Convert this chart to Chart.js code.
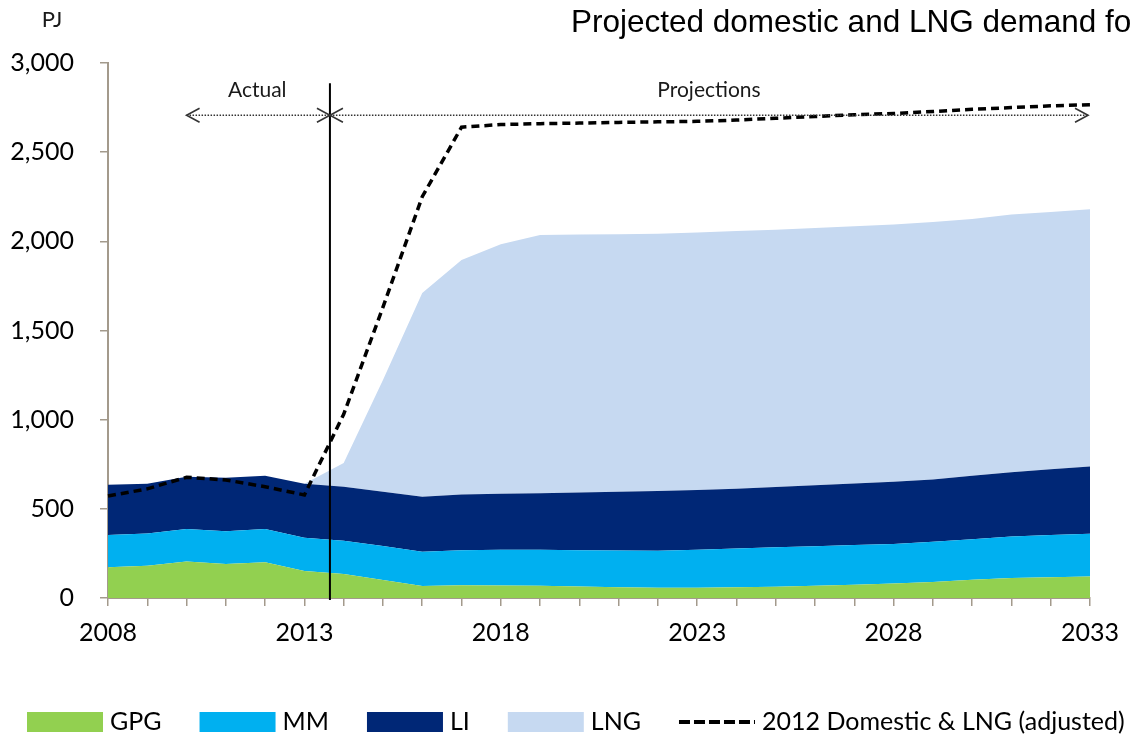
<!DOCTYPE html>
<html>
<head>
<meta charset="utf-8">
<script src="https://cdn.jsdelivr.net/npm/chart.js@4.4.1/dist/chart.umd.min.js"></script>
<style>
  html, body { margin: 0; padding: 0; background: #ffffff; }
  #wrap { width: 1132px; height: 737px; position: relative; overflow: hidden; }
</style>
</head>
<body>
<div id="wrap"><canvas id="chart"></canvas></div>
<script>
// Years on the horizontal axis (one point per year)
const years = ['2008','2009','2010','2011','2012','2013','2014','2015','2016','2017','2018','2019','2020',
               '2021','2022','2023','2024','2025','2026','2027','2028','2029','2030','2031','2032','2033'];
// Years that carry a printed label
const xTickLabels = ['2008','2013','2018','2023','2028','2033'];

// Gas demand by sector, PJ (stacked areas)
const gpg = [172,181,204,191,200,151,134,101, 67, 72, 70, 68, 65, 60, 58, 58, 60, 63, 68, 74, 82, 90,102,112,116,120];
const mm  = [181,181,183,183,187,187,187,190,193,196,200,202,203,206,207,212,217,221,222,223,221,225,228,233,237,240];
const li  = [282,278,293,301,298,302,303,305,308,312,315,318,324,330,335,335,335,338,342,345,349,350,355,360,369,378];
const lng = [  0,  0,  0,  0,  0,  0,133,626,1142,1315,1398,1447,1446,1444,1443,1445,1446,1443,1443,1443,1443,1443,1440,1445,1443,1442];

// Earlier (2012) outlook of total domestic and LNG demand, PJ
const demand2012 = [572,612,677,662,624,578,1030,1631,2250,2640,2655,2660,2663,2667,2670,2673,2680,2690,2700,2710,2717,2728,2740,2750,2760,2766];

const seriesNames  = ['GPG', 'MM', 'LI', 'LNG', '2012 Domestic & LNG (adjusted)'];
const seriesColors = ['#92d050', '#00b0f0', '#002776', '#c6d9f1', '#000000'];

const FONT = 'Lato, "Noto Sans", sans-serif';
const AXIS_COLOR = '#a39a8c';

// Actual / projections divider and the arrows above the plot
const divider = { at: 5.65, top: 2887 };
const arrows = { y: 2707, actualFrom: 2, projEnd: 24.95 };

function areaSet(i, data, fill) {
  return {
    label: seriesNames[i],
    data: data,
    backgroundColor: seriesColors[i],
    borderColor: seriesColors[i],
    borderWidth: 0,
    pointRadius: 0,
    pointHoverRadius: 0,
    fill: fill,
    tension: 0,
    stack: 'sectors'
  };
}

function chevron(ctx, x, y, dir) {
  ctx.beginPath();
  ctx.moveTo(x + dir * 13, y - 7);
  ctx.lineTo(x, y);
  ctx.lineTo(x + dir * 13, y + 7);
  ctx.stroke();
}

function dottedArrow(ctx, x1, x2, y) {
  ctx.save();
  ctx.strokeStyle = '#333333';
  ctx.lineWidth = 1.4;
  ctx.setLineDash([1.5, 1.5]);
  ctx.beginPath();
  ctx.moveTo(x1, y);
  ctx.lineTo(x2, y);
  ctx.stroke();
  ctx.setLineDash([]);
  ctx.lineWidth = 1.6;
  chevron(ctx, x1, y, 1);
  chevron(ctx, x2, y, -1);
  ctx.restore();
}

const overlay = {
  id: 'overlay',
  afterDraw(chart) {
    const ctx = chart.ctx;
    const xs = chart.scales.x, ys = chart.scales.y;

    // divider between history and projections
    const vx = xs.getPixelForValue(divider.at);
    ctx.save();
    ctx.strokeStyle = '#000000';
    ctx.lineWidth = 2;
    ctx.beginPath();
    ctx.moveTo(vx, ys.getPixelForValue(divider.top));
    ctx.lineTo(vx, ys.bottom + 2);
    ctx.stroke();
    ctx.restore();

    // range arrows with captions
    const ay = ys.getPixelForValue(arrows.y);
    const ax1 = xs.getPixelForValue(arrows.actualFrom);
    const px2 = xs.getPixelForValue(arrows.projEnd);
    dottedArrow(ctx, ax1, vx, ay);
    dottedArrow(ctx, vx, px2, ay);
    ctx.save();
    ctx.fillStyle = '#1a1a1a';
    ctx.font = '21px ' + FONT;
    ctx.textAlign = 'center';
    ctx.textBaseline = 'alphabetic';
    ctx.fillText('Actual', (ax1 + vx) / 2 - 1, ay - 18);
    ctx.fillText('Projections', (vx + px2) / 2, ay - 18);

    // unit label and heading
    ctx.font = '22px ' + FONT;
    ctx.fillText('PJ', 52, 27);
    ctx.textAlign = 'left';
    ctx.fillStyle = '#000000';
    ctx.font = '31.5px "Liberation Sans", Arial, sans-serif';
    ctx.fillText('Projected domestic and LNG demand for', 571, 32);

    // legend row
    ctx.font = '25px ' + FONT;
    ctx.textBaseline = 'middle';
    let x = 27;
    const ly = 722;
    chart.data.datasets.forEach((ds, i) => {
      if (ds.borderDash) {
        ctx.strokeStyle = ds.borderColor;
        ctx.lineWidth = 4;
        ctx.setLineDash([11, 4]);
        ctx.beginPath();
        ctx.moveTo(x, ly);
        ctx.lineTo(x + 76, ly);
        ctx.stroke();
        ctx.setLineDash([]);
      } else {
        ctx.fillStyle = ds.backgroundColor;
        ctx.fillRect(x, ly - 10, 76, 20);
      }
      ctx.fillStyle = '#000000';
      ctx.fillText(ds.label, x + 83, ly);
      x += 83 + ctx.measureText(ds.label).width + 38;
    });
    ctx.restore();
  }
};

new Chart(document.getElementById('chart'), {
  type: 'line',
  data: {
    labels: years,
    datasets: [
      areaSet(0, gpg, 'origin'),
      areaSet(1, mm, '-1'),
      areaSet(2, li, '-1'),
      areaSet(3, lng, '-1'),
      {
        label: seriesNames[4],
        data: demand2012,
        borderColor: seriesColors[4],
        backgroundColor: seriesColors[4],
        borderWidth: 3.5,
        borderDash: [8, 5],
        pointRadius: 0,
        pointHoverRadius: 0,
        fill: false,
        tension: 0,
        stack: 'outlook',
        order: -1
      }
    ]
  },
  options: {
    responsive: true,
    maintainAspectRatio: false,
    animation: false,
    layout: { padding: { top: 63, right: 42, left: 0, bottom: 0 } },
    plugins: {
      legend: { display: false },
      tooltip: { enabled: false },
      title: { display: false }
    },
    scales: {
      x: {
        type: 'category',
        offset: false,
        grid: { display: true, drawOnChartArea: false, drawTicks: true, tickLength: 8, color: AXIS_COLOR, lineWidth: 1.5 },
        border: { display: true, color: AXIS_COLOR, width: 2 },
        ticks: {
          autoSkip: false,
          maxRotation: 0,
          minRotation: 0,
          padding: 12,
          color: '#000000',
          font: { family: FONT, size: 25 },
          callback: function (value) {
            const lab = this.getLabelForValue(value);
            return xTickLabels.includes(lab) ? lab : '';
          }
        },
        afterFit(scale) { scale.height = 139; }
      },
      y: {
        stacked: true,
        min: 0,
        max: 3000,
        grid: { display: true, drawOnChartArea: false, drawTicks: true, tickLength: 8, color: AXIS_COLOR, lineWidth: 1.5 },
        border: { display: true, color: AXIS_COLOR, width: 2 },
        ticks: {
          stepSize: 500,
          padding: 26,
          color: '#000000',
          font: { family: FONT, size: 25 },
          callback: (v) => v.toLocaleString('en-US')
        },
        afterFit(scale) { scale.width = 108; }
      }
    }
  },
  plugins: [overlay]
});
</script>
</body>
</html>
